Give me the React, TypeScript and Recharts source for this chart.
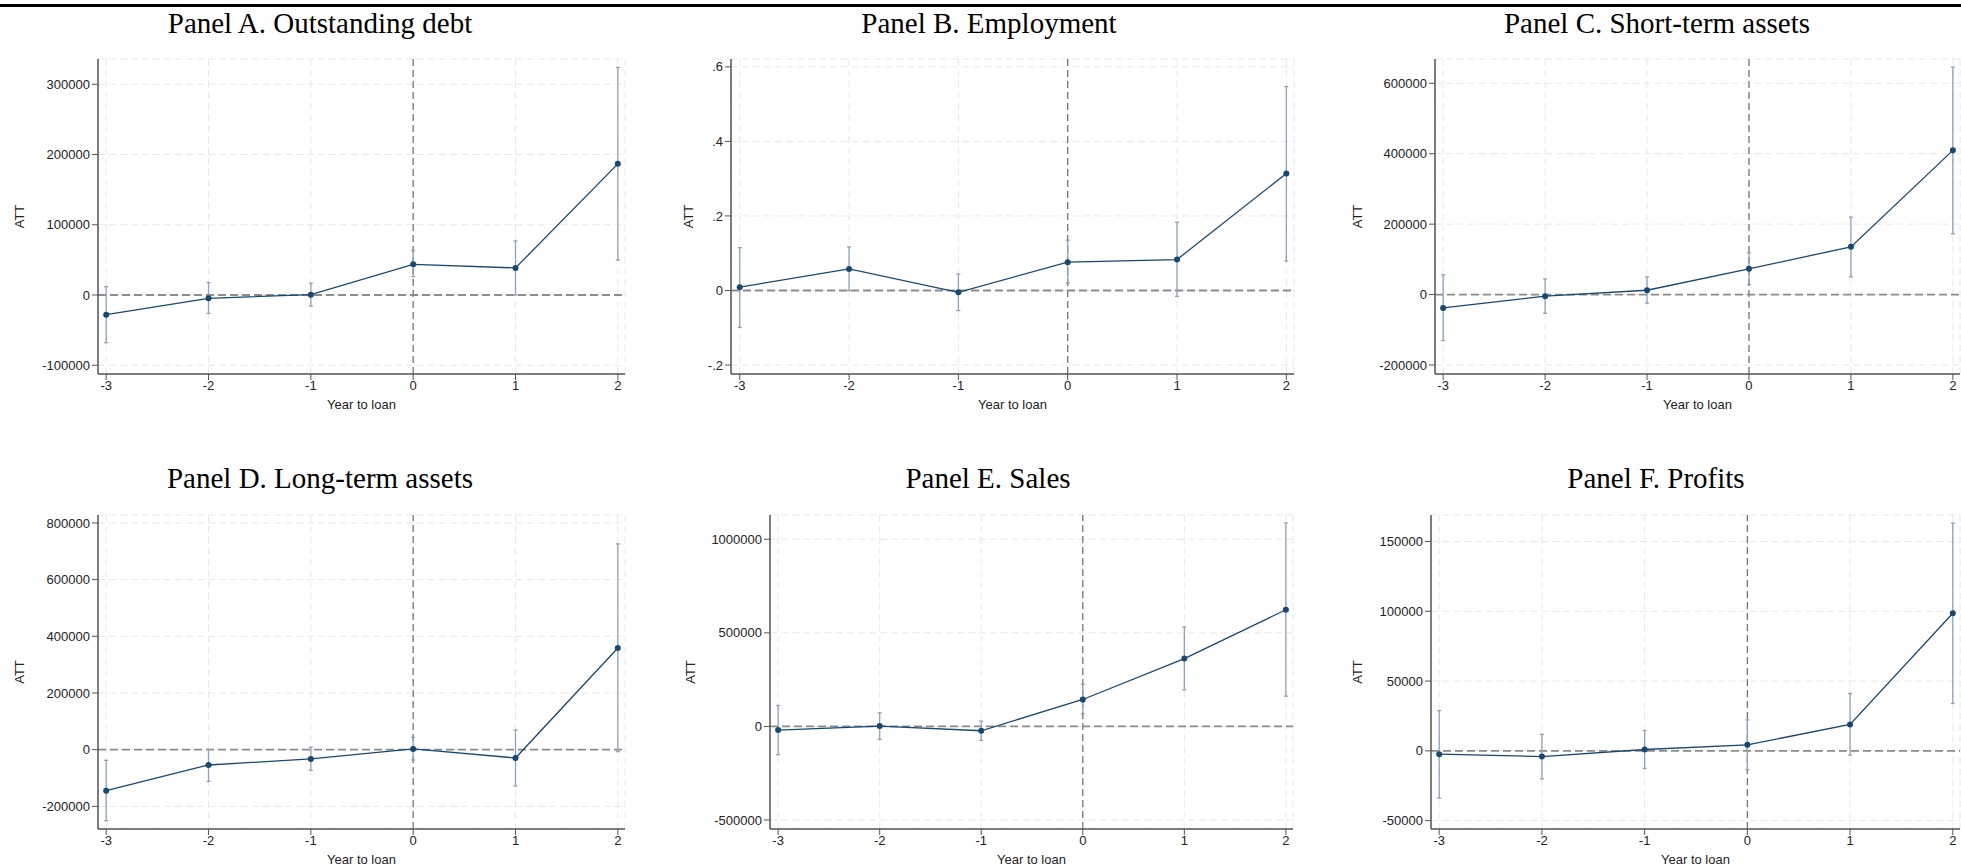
import React from 'react'
import { ComposedChart, Line, ErrorBar, XAxis, YAxis, CartesianGrid, ReferenceLine } from 'recharts'

const years = [-3, -2, -1, 0, 1, 2]

// Panel A. Outstanding debt
const debtEst = [-28000, -4700, 500, 43700, 38500, 186700]
const debtLo = [-68000, -26000, -15700, 26100, 0, 49900]
const debtHi = [11900, 17600, 16600, 63200, 77000, 324000]
const debtTicks = [-100000, 0, 100000, 200000, 300000]

// Panel B. Employment
const empEst = [0.009, 0.058, -0.005, 0.076, 0.083, 0.314]
const empLo = [-0.099, 0.0, -0.054, 0.02, -0.016, 0.079]
const empHi = [0.115, 0.117, 0.044, 0.135, 0.183, 0.547]
const empTicks = [-0.2, 0, 0.2, 0.4, 0.6]

// Panel C. Short-term assets
const stEst = [-37900, -4700, 12300, 73000, 135500, 409500]
const stLo = [-130800, -53000, -24600, 28400, 50200, 172500]
const stHi = [55900, 44500, 50200, 118500, 220000, 646000]
const stTicks = [-200000, 0, 200000, 400000, 600000]

// Panel D. Long-term assets
const ltEst = [-144700, -54100, -32900, 2400, -29400, 358700]
const ltLo = [-250600, -111800, -72900, -36500, -128200, -7000]
const ltHi = [-37600, 1000, 8200, 43500, 69400, 726000]
const ltTicks = [-200000, 0, 200000, 400000, 600000, 800000]

// Panel E. Sales
const salesEst = [-19500, 1800, -23100, 143900, 362300, 623400]
const salesLo = [-151000, -69300, -74600, 67500, 195400, 161600]
const salesHi = [112000, 72800, 28400, 225600, 531000, 1087000]
const salesTicks = [-500000, 0, 500000, 1000000]

// Panel F. Profits
const profEst = [-2400, -4100, 950, 4300, 18900, 98600]
const profLo = [-33900, -20000, -12600, -13600, -3100, 33900]
const profHi = [28900, 11900, 14600, 22200, 41100, 163200]
const profTicks = [-50000, 0, 50000, 100000, 150000]

const NAVY = '#1a476f'
const CI = '#8da2ba'
const AXIS = '#555'
const SANS = '"Liberation Sans", Arial, sans-serif'
const SERIF = '"Liberation Serif", "Times New Roman", serif'

const ML = 100
const MT = 10
const MB = 50
const MR = 4

const fmtDec = (v: number) => (v === 0 ? '0' : v.toFixed(1).replace(/^(-?)0\./, '$1.'))
const fmtInt = (v: number) => String(v)

interface PanelProps {
  est: number[]
  lo: number[]
  hi: number[]
  ticks: number[]
  domain: [number, number]
  x0: number
  x1: number
  y0: number
  y1: number
  gap: number
  fmt: (v: number) => string
}

const attLabel = (gap: number) => (props: any) => {
  const vb = props.viewBox
  const cx = vb.x + vb.width - gap
  const cy = vb.y + vb.height / 2
  return (
    <text x={cx} y={cy} transform={`rotate(-90, ${cx}, ${cy})`} textAnchor="middle" dominantBaseline="central"
      fontSize={13} fontFamily={SANS} fill="#222">ATT</text>
  )
}

const yearLabel = (props: any) => {
  const vb = props.viewBox
  const cx = vb.x + vb.width / 2
  return (
    <text x={cx} y={vb.y + 30} textAnchor="middle" dominantBaseline="central" fontSize={13} fontFamily={SANS} fill="#222">
      Year to loan
    </text>
  )
}

function Panel({ est, lo, hi, ticks, domain, x0, x1, y0, y1, gap, fmt }: PanelProps) {
  const data = years.map((y, i) => ({ year: y, att: est[i], err: [est[i] - lo[i], hi[i] - est[i]] }))
  const tick = { fontSize: 13, fill: '#222', fontFamily: SANS }
  return (
    <div style={{ position: 'absolute', left: x0 - ML, top: y0 - MT }}>
      <ComposedChart width={x1 - x0 + ML + MR} height={y1 - y0 + MT + MB} data={data} margin={{ top: MT, right: MR, left: 0, bottom: 0 }}>
        <CartesianGrid stroke="#e8e8e8" strokeDasharray="7 4" />
        <XAxis type="number" dataKey="year" domain={[-3.08, 2.07]} ticks={years} allowDataOverflow interval={0}
          height={MB} tick={tick} tickSize={6} tickMargin={1} tickLine={{ stroke: AXIS }}
          axisLine={{ stroke: AXIS, strokeWidth: 1.5 }} label={{ content: yearLabel }} />
        <YAxis type="number" domain={domain} ticks={ticks} allowDataOverflow interval={0} width={ML}
          tick={tick} tickFormatter={fmt} tickSize={6} tickMargin={2} tickLine={{ stroke: AXIS }}
          axisLine={{ stroke: AXIS, strokeWidth: 1.5 }} label={{ content: attLabel(gap) }} />
        <ReferenceLine x={0} stroke="#6e6e6e" strokeWidth={1.2} strokeDasharray="7 4" />
        <ReferenceLine y={0} stroke="#8c8c8c" strokeWidth={1.8} strokeDasharray="8 4" />
        <Line dataKey="att" stroke={NAVY} strokeWidth={1.3} isAnimationActive={false}
          dot={{ r: 3, fill: NAVY, stroke: NAVY, strokeWidth: 0 }} activeDot={false}>
          <ErrorBar dataKey="err" direction="y" width={2} stroke={CI} strokeWidth={1.3} />
        </Line>
      </ComposedChart>
    </div>
  )
}

const titles = [
  { text: 'Panel A. Outstanding debt', x: 320, y: 33 },
  { text: 'Panel B. Employment', x: 989, y: 33 },
  { text: 'Panel C. Short-term assets', x: 1657, y: 33 },
  { text: 'Panel D. Long-term assets', x: 320, y: 488 },
  { text: 'Panel E. Sales', x: 988, y: 488 },
  { text: 'Panel F. Profits', x: 1656, y: 488 },
]

export default function App() {
  return (
    <div style={{ position: 'absolute', left: 0, top: 0, width: 1961, height: 868, overflow: 'hidden', background: '#fff' }}>
      <div style={{ position: 'absolute', left: 0, top: 4, width: 1961, height: 3, background: '#000' }} />
      <Panel est={debtEst} lo={debtLo} hi={debtHi} ticks={debtTicks} domain={[-112500, 336000]}
        x0={98} x1={625} y0={59} y1={374} gap={79} fmt={fmtInt} />
      <Panel est={empEst} lo={empLo} hi={empHi} ticks={empTicks} domain={[-0.224, 0.621]}
        x0={731} x1={1294} y0={59} y1={374} gap={43} fmt={fmtDec} />
      <Panel est={stEst} lo={stLo} hi={stHi} ticks={stTicks} domain={[-225600, 669000]}
        x0={1435} x1={1960} y0={59} y1={374} gap={78} fmt={fmtInt} />
      <Panel est={ltEst} lo={ltLo} hi={ltHi} ticks={ltTicks} domain={[-280000, 828000]}
        x0={98} x1={625} y0={515} y1={829} gap={79} fmt={fmtInt} />
      <Panel est={salesEst} lo={salesLo} hi={salesHi} ticks={salesTicks} domain={[-548000, 1129500]}
        x0={770} x1={1293} y0={515} y1={829} gap={80} fmt={fmtInt} />
      <Panel est={profEst} lo={profLo} hi={profHi} ticks={profTicks} domain={[-56000, 169000]}
        x0={1431} x1={1960} y0={515} y1={829} gap={74} fmt={fmtInt} />
      <svg width={1961} height={868} style={{ position: 'absolute', left: 0, top: 0, pointerEvents: 'none' }}>
        {titles.map(t => (
          <text key={t.text} x={t.x} y={t.y} textAnchor="middle" fontSize={29} fontFamily={SERIF} fill="#000">{t.text}</text>
        ))}
      </svg>
    </div>
  )
}
